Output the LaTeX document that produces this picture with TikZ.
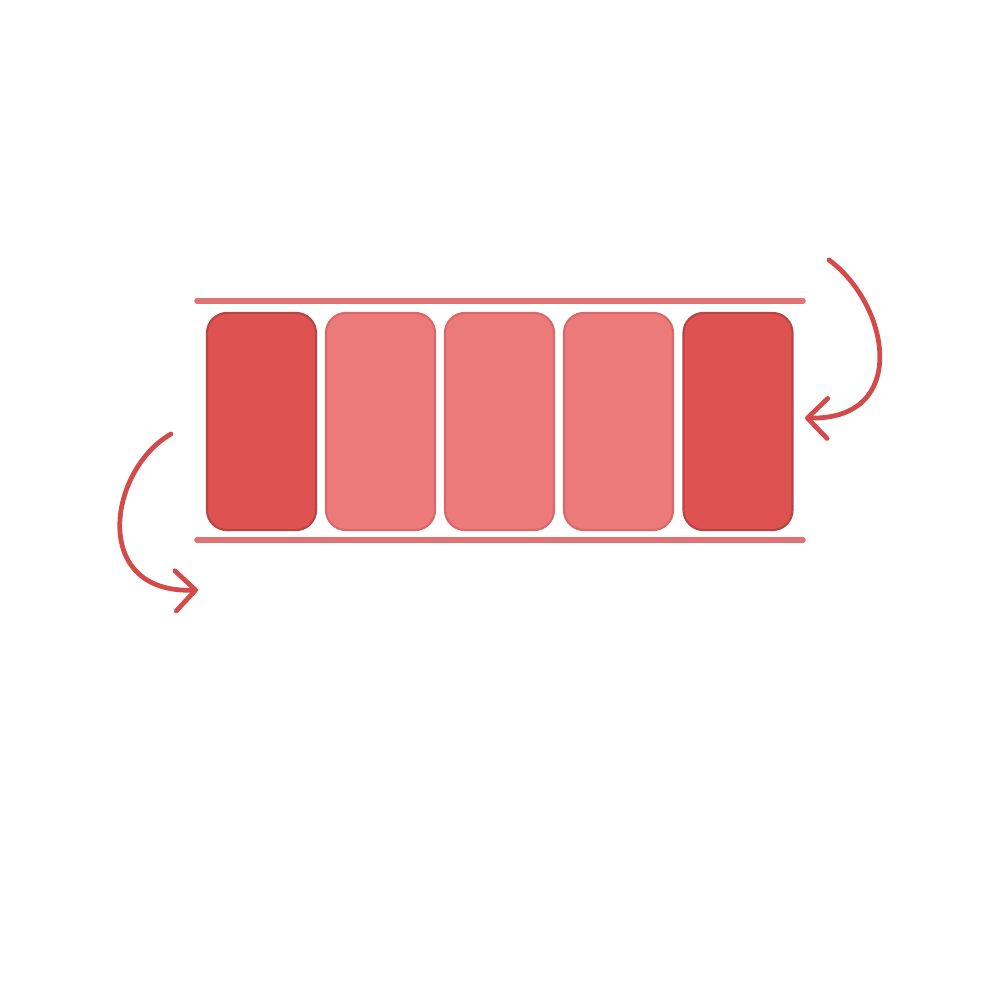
\documentclass[tikz,border=0pt]{standalone}
\usetikzlibrary{arrows.meta}
\definecolor{darkfill}{HTML}{DF5252}
\definecolor{darkedge}{HTML}{B94444}
\definecolor{lightfill}{HTML}{EC7A7A}
\definecolor{lightedge}{HTML}{D96868}
\definecolor{railcol}{HTML}{E07474}
\definecolor{arrowcol}{HTML}{D24A4A}
\tikzset{
  cell/.style={rounded corners=0.2cm, minimum width=1.09cm, minimum height=2.17cm, inner sep=0pt, line width=0.6pt},
  darkcell/.style={cell, fill=darkfill, draw=darkedge},
  lightcell/.style={cell, fill=lightfill, draw=lightedge},
  rail/.style={draw=railcol, line width=1.6pt, line cap=round},
  turn/.style={draw=arrowcol, line width=1.35pt, line cap=round, -{Straight Barb[length=0.2cm,width=0.4cm,round]}}
}
\begin{document}
\begin{tikzpicture}[x=0.01cm,y=-0.01cm]
\useasboundingbox (0,0) rectangle (1000,1000);
\fill[white] (0,0) rectangle (1000,1000);
\coordinate (t1) at (197,301);
\coordinate (t2) at (803,301);
\coordinate (b1) at (197,540);
\coordinate (b2) at (803,540);
\draw[rail] (t1) -- (t2);
\draw[rail] (b1) -- (b2);
\node[darkcell] (c1) at (261.5,421.5) {};
\node[lightcell] (c2) at (380.5,421.5) {};
\node[lightcell] (c3) at (499.5,421.5) {};
\node[lightcell] (c4) at (618.5,421.5) {};
\node[darkcell] (c5) at (738,421.5) {};
\coordinate (rs) at (829,260);
\coordinate (re) at (805,418);
\coordinate (ls) at (171,434);
\coordinate (le) at (198,590);
\draw[turn] (rs) .. controls (890,305) and (910,420) .. (re);
\draw[turn] (ls) .. controls (108,470) and (90,594) .. (le);
\end{tikzpicture}
\end{document}
